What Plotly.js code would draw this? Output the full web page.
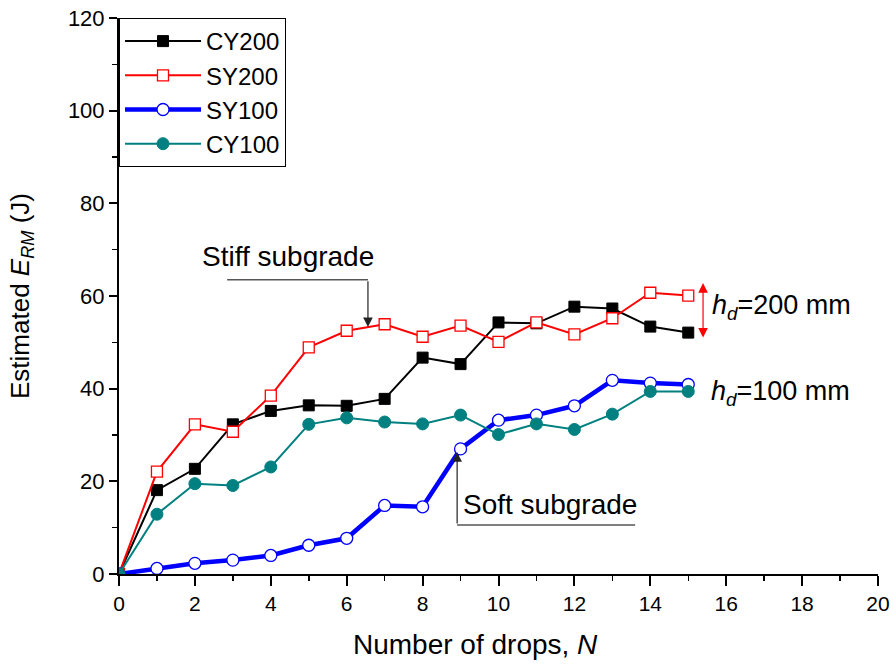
<!DOCTYPE html>
<html>
<head>
<meta charset="utf-8">
<script src="https://cdn.plot.ly/plotly-3.0.1.min.js"></script>
<style>
  html, body { margin: 0; padding: 0; background: #ffffff; }
  #chart { width: 895px; height: 664px; }
</style>
</head>
<body>
<div id="chart"></div>
<script>
// Number of drops
var drops = [0, 1, 2, 3, 4, 5, 6, 7, 8, 9, 10, 11, 12, 13, 14, 15];

// Estimated rammed energy E_RM (J) for each test
var cy200 = [0, 18.1, 22.7, 32.3, 35.2, 36.4, 36.3, 37.8, 46.7, 45.3, 54.3, 54.1, 57.7, 57.3, 53.4, 52.1];
var sy200 = [0, 22.1, 32.3, 30.7, 38.5, 48.9, 52.5, 53.9, 51.2, 53.6, 50.1, 54.3, 51.7, 55.2, 60.7, 60.1];
var sy100 = [0, 1.2, 2.3, 3.0, 4.0, 6.2, 7.7, 14.8, 14.5, 27.0, 33.2, 34.3, 36.3, 41.8, 41.2, 40.9];
var cy100 = [0, 12.9, 19.5, 19.1, 23.1, 32.3, 33.7, 32.8, 32.4, 34.3, 30.1, 32.4, 31.2, 34.5, 39.4, 39.4];

var seriesNames = ['CY200', 'SY200', 'SY100', 'CY100'];
var xTickVals = [0, 2, 4, 6, 8, 10, 12, 14, 16, 18, 20];
var yTickVals = [0, 20, 40, 60, 80, 100, 120];

var FONT = 'Arial, "Liberation Sans", Helvetica, sans-serif';

var traces = [
  {
    x: drops, y: cy200, name: seriesNames[0], type: 'scatter', mode: 'lines+markers',
    line: { color: '#000000', width: 2 },
    marker: { symbol: 'square', size: 11, color: '#000000', line: { color: '#000000', width: 1 } }
  },
  {
    x: drops, y: sy200, name: seriesNames[1], type: 'scatter', mode: 'lines+markers',
    line: { color: '#ff0000', width: 2 },
    marker: { symbol: 'square', size: 11, color: '#ffffff', line: { color: '#ff0000', width: 1.3 } }
  },
  {
    x: drops, y: sy100, name: seriesNames[2], type: 'scatter', mode: 'lines+markers',
    line: { color: '#0000ff', width: 4.5 },
    marker: { symbol: 'circle', size: 12, color: '#ffffff', line: { color: '#0000ff', width: 1.3 } }
  },
  {
    x: drops, y: cy100, name: seriesNames[3], type: 'scatter', mode: 'lines+markers',
    line: { color: '#008080', width: 2 },
    marker: { symbol: 'circle', size: 12, color: '#008080', line: { color: '#008080', width: 1 } }
  }
];

var annFont = { family: FONT, size: 28, color: '#000000' };

var layout = {
  width: 895,
  height: 664,
  margin: { l: 119, r: 17, t: 18, b: 90 },
  paper_bgcolor: '#ffffff',
  plot_bgcolor: '#ffffff',
  font: { family: FONT, color: '#000000' },
  showlegend: true,
  legend: {
    x: 0, y: 1, xanchor: 'left', yanchor: 'top',
    bgcolor: '#ffffff', bordercolor: '#000000', borderwidth: 1,
    font: { family: FONT, size: 24, color: '#000000' },
    itemwidth: 76, tracegroupgap: 0
  },
  xaxis: {
    range: [0, 20],
    tickvals: xTickVals,
    ticks: 'outside', ticklen: 10, tickwidth: 2, tickcolor: '#000000',
    minor: { dtick: 1, ticks: 'outside', ticklen: 5, tickwidth: 1.5, tickcolor: '#000000', showgrid: false },
    showline: true, linecolor: '#000000', linewidth: 2,
    showgrid: false, zeroline: false,
    tickfont: { family: FONT, size: 21, color: '#000000' }
  },
  yaxis: {
    range: [0, 120],
    tickvals: yTickVals,
    ticks: 'outside', ticklen: 8, tickwidth: 2, tickcolor: '#000000',
    minor: { dtick: 10, ticks: 'outside', ticklen: 5, tickwidth: 1.5, tickcolor: '#000000', showgrid: false },
    showline: true, linecolor: '#000000', linewidth: 2,
    showgrid: false, zeroline: false,
    tickfont: { family: FONT, size: 22, color: '#000000' },
    title: {
      text: 'Estimated <i>E</i><sub><i>RM</i></sub> (J)',
      font: { family: FONT, size: 26, color: '#000000' },
      standoff: 31
    }
  },
  // top and right frame with small ticks
  xaxis2: {
    overlaying: 'x', side: 'top', range: [0, 20], dtick: 1,
    ticks: 'outside', ticklen: 3, tickwidth: 1.5, tickcolor: '#000000',
    showticklabels: false, showline: true, linecolor: '#000000', linewidth: 2,
    showgrid: false, zeroline: false
  },
  yaxis2: {
    overlaying: 'y', side: 'right', range: [0, 120], dtick: 10,
    ticks: 'outside', ticklen: 3, tickwidth: 1.5, tickcolor: '#000000',
    showticklabels: false, showline: true, linecolor: '#000000', linewidth: 2,
    showgrid: false, zeroline: false
  },
  shapes: [
    // leader line under "Stiff subgrade"
    { type: 'line', xref: 'x', yref: 'y', x0: 2.85, y0: 63.5, x1: 6.56, y1: 63.5,
      line: { color: '#555555', width: 1.5 } },
    // leader line under "Soft subgrade"
    { type: 'line', xref: 'x', yref: 'y', x0: 8.91, y0: 10.6, x1: 13.6, y1: 10.6,
      line: { color: '#555555', width: 1.5 } }
  ],
  annotations: [
    {
      xref: 'paper', yref: 'paper', x: 0.47, y: -0.095, xanchor: 'center', yanchor: 'top',
      text: 'Number of drops, <i>N</i>', showarrow: false,
      font: { family: FONT, size: 28, color: '#000000' }
    },
    {
      xref: 'x', yref: 'y', x: 4.45, y: 68.6, xanchor: 'center', yanchor: 'middle',
      text: 'Stiff subgrade', showarrow: false, font: annFont
    },
    {
      xref: 'x', yref: 'y', x: 6.56, y: 53.3, axref: 'x', ayref: 'y', ax: 6.56, ay: 63.5,
      text: '', showarrow: true, arrowhead: 2, arrowsize: 1.6, arrowwidth: 1.2,
      arrowcolor: '#222222', standoff: 0
    },
    {
      xref: 'x', yref: 'y', x: 11.35, y: 14.9, xanchor: 'center', yanchor: 'middle',
      text: 'Soft subgrade', showarrow: false, font: annFont
    },
    {
      xref: 'x', yref: 'y', x: 8.91, y: 26.3, axref: 'x', ayref: 'y', ax: 8.91, ay: 10.6,
      text: '', showarrow: true, arrowhead: 2, arrowsize: 1.6, arrowwidth: 1.2,
      arrowcolor: '#222222', standoff: 0
    },
    {
      // range marker between the two 200 mm curves
      xref: 'x', yref: 'y', x: 15.39, y: 62.8, axref: 'x', ayref: 'y', ax: 15.39, ay: 50.7,
      text: '', showarrow: true, arrowside: 'end+start', arrowhead: 2, arrowsize: 1.6,
      arrowwidth: 1.2, arrowcolor: '#ff0000', standoff: 0, startstandoff: 0
    },
    {
      xref: 'x', yref: 'y', x: 15.58, y: 57.6, xanchor: 'left', yanchor: 'middle',
      text: '<i>h</i><sub><i>d</i></sub>=200 mm', showarrow: false,
      font: { family: FONT, size: 27, color: '#000000' }
    },
    {
      xref: 'x', yref: 'y', x: 15.55, y: 39.1, xanchor: 'left', yanchor: 'middle',
      text: '<i>h</i><sub><i>d</i></sub>=100 mm', showarrow: false,
      font: { family: FONT, size: 27, color: '#000000' }
    }
  ]
};

Plotly.newPlot('chart', traces, layout, { displayModeBar: false, staticPlot: true });
</script>
</body>
</html>
